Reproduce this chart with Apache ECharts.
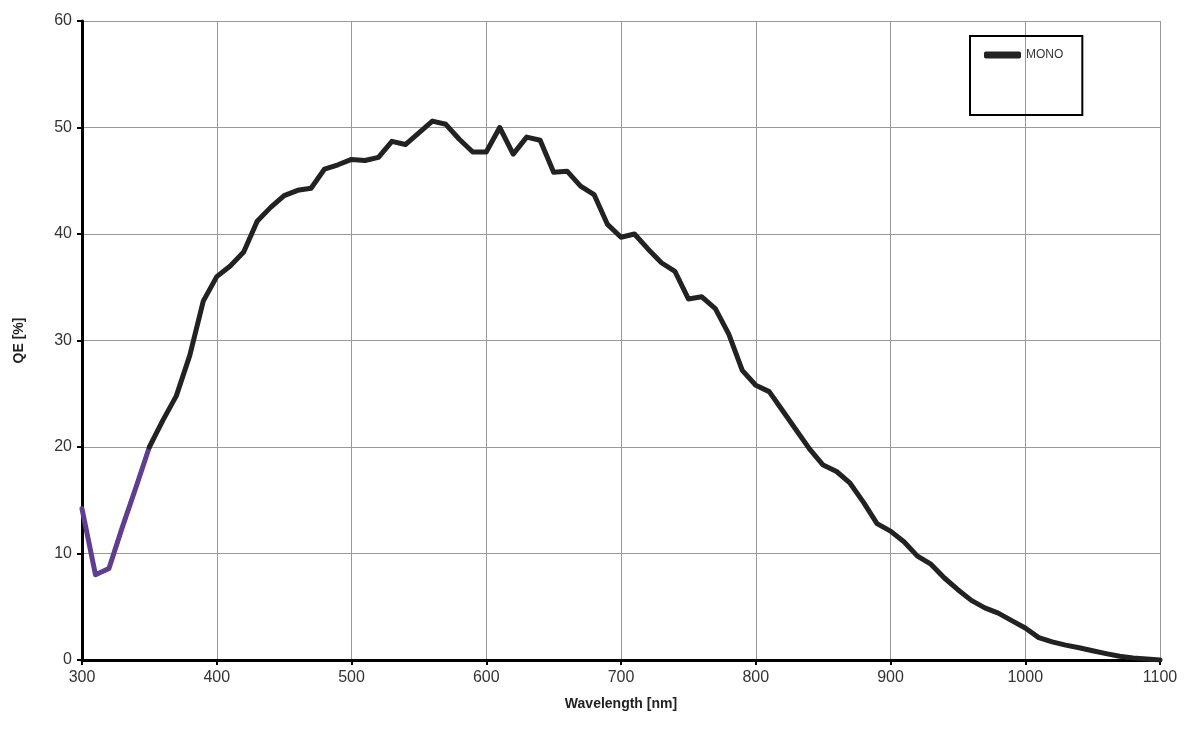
<!DOCTYPE html>
<html><head><meta charset="utf-8">
<script src="https://cdn.jsdelivr.net/npm/echarts@6/dist/echarts.min.js"></script>
<style>html,body{margin:0;padding:0;background:#fff}#c{width:1199px;height:729px}</style>
</head><body><div id="c"></div>
<script>
const wavelengths = [300,310,320,330,340,350,360,370,380,390,400,410,420,430,440,450,460,470,480,490,500,510,520,530,540,550,560,570,580,590,600,610,620,630,640,650,660,670,680,690,700,710,720,730,740,750,760,770,780,790,800,810,820,830,840,850,860,870,880,890,900,910,920,930,940,950,960,970,980,990,1000,1010,1020,1030,1040,1050,1060,1070,1080,1090,1100];
const qeMono = [14.2,8.0,8.6,12.5,16.2,20.0,22.5,24.8,28.6,33.7,36.0,37.0,38.3,41.2,42.5,43.6,44.1,44.3,46.1,46.5,47.0,46.9,47.2,48.7,48.4,49.5,50.6,50.3,48.9,47.7,47.7,50.0,47.5,49.1,48.8,45.8,45.9,44.5,43.7,40.9,39.7,40.0,38.6,37.3,36.5,33.9,34.1,33.0,30.6,27.2,25.8,25.2,23.4,21.6,19.8,18.3,17.7,16.6,14.8,12.8,12.1,11.1,9.75,9.0,7.7,6.6,5.6,4.9,4.4,3.7,3.0,2.1,1.7,1.4,1.15,0.87,0.6,0.35,0.2,0.1,0.0];
const uvEnd = 350;
const xTicks = [300,400,500,600,700,800,900,1000,1100];
const yTicks = [0,10,20,30,40,50,60];
const seriesName = 'MONO';
const xTitle = 'Wavelength [nm]';
const yTitle = 'QE [%]';

const allPts = wavelengths.map((w,i)=>[w,qeMono[i]]);
const uvPts = allPts.filter(p=>p[0]<=uvEnd);
const mainPts = allPts.filter(p=>p[0]>=uvEnd);

const chart = echarts.init(document.getElementById('c'));
const axisFont = {fontFamily:'Liberation Sans, Arial, sans-serif', fontSize:16, color:'#333'};
chart.setOption({
  animation:false,
  backgroundColor:'#fff',
  grid:{left:82,right:39,top:21,bottom:69,containLabel:false},
  legend:{
    data:[seriesName], left:970, top:36,
    orient:'vertical',
    borderColor:'#000', borderWidth:2, borderRadius:0,
    padding:[13,19,54,14],
    itemWidth:37, itemHeight:7, itemGap:7,
    icon:'roundRect',
    textStyle:{fontFamily:'Liberation Sans, Arial, sans-serif',fontSize:12,color:'#333'}
  },
  xAxis:{
    type:'value', min:300, max:1100, interval:100,
    name:xTitle, nameLocation:'middle', nameGap:37,
    nameTextStyle:{fontFamily:'Liberation Sans, Arial, sans-serif',fontSize:14,fontWeight:'bold',color:'#222'},
    axisLine:{show:true,onZero:false,lineStyle:{color:'#000',width:3}},
    axisTick:{show:true,length:5,lineStyle:{color:'#000',width:2}},
    axisLabel:Object.assign({margin:10, formatter:v=>String(v)},axisFont),
    splitLine:{show:true,lineStyle:{color:'#999',width:1}}
  },
  yAxis:{
    type:'value', min:0, max:60, interval:10,
    name:yTitle, nameLocation:'middle', nameGap:56, nameRotate:90,
    nameTextStyle:{fontFamily:'Liberation Sans, Arial, sans-serif',fontSize:14,fontWeight:'bold',color:'#222'},
    axisLine:{show:true,lineStyle:{color:'#000',width:3}},
    axisTick:{show:true,length:5,lineStyle:{color:'#000',width:2}},
    axisLabel:Object.assign({margin:10, formatter:v=>String(v)},axisFont),
    splitLine:{show:true,lineStyle:{color:'#999',width:1}}
  },
  series:[
    {name:'UV', type:'line', data:uvPts, symbol:'none', smooth:false,
     lineStyle:{color:'#5e3f8f',width:5,join:'round',cap:'round'}, itemStyle:{color:'#5e3f8f'}, z:3},
    {name:seriesName, type:'line', data:mainPts, symbol:'none', smooth:false,
     lineStyle:{color:'#222',width:5,join:'round',cap:'round'}, itemStyle:{color:'#222'}, z:3}
  ]
});
</script></body></html>
